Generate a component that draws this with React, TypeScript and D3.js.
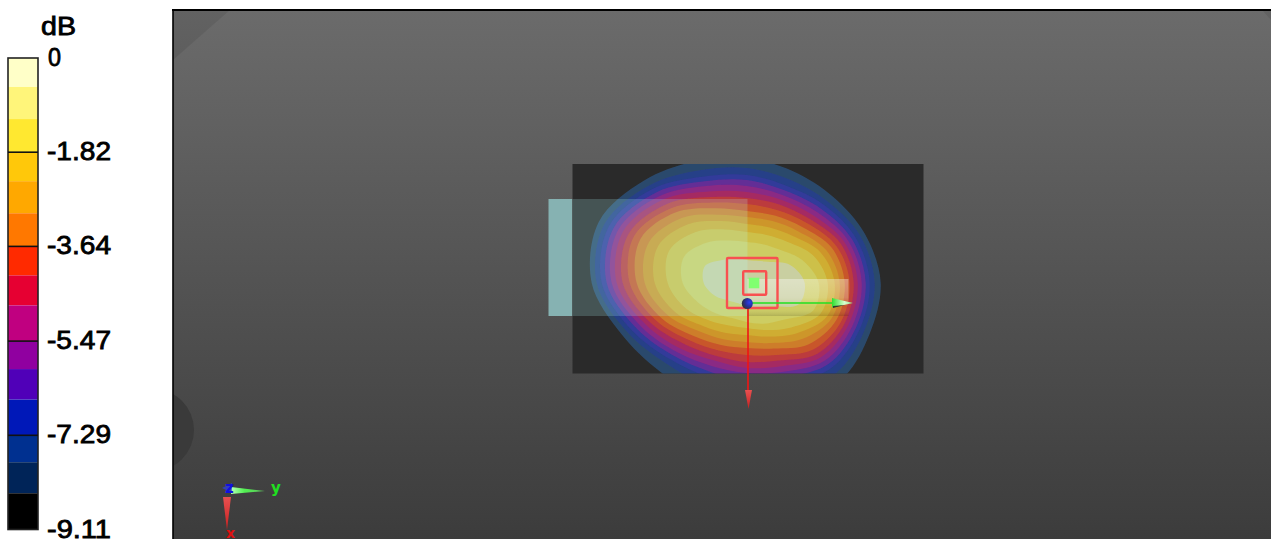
import React from "react";
import * as d3 from "d3";

// ---------- data ----------
const tickLabels = ["0", "-1.82", "-3.64", "-5.47", "-7.29", "-9.11"];
const tickValues = [0, -1.82, -3.64, -5.47, -7.29, -9.11];
const bandEdgesDb = [0, -0.56, -1.18, -1.82, -2.38, -3.0, -3.64, -4.2, -4.78, -5.47, -6.01, -6.6, -7.29, -7.81, -8.41, -9.11];
const bandColors = ["#FFFFC8", "#FFF57A", "#FFE830", "#FFC80A", "#FFA800", "#FF7800", "#FF2A00", "#E60032", "#C00080", "#9000A0", "#5000B8", "#0018B8", "#003090", "#002458", "#000000"];
const mapColors = ["#C9CFA1", "#CDCD63", "#CDC04A", "#CFAD31", "#CD962A", "#CD7D2B", "#C8562C", "#BC3A3C", "#A52A62", "#8A2A84", "#642E96", "#323A9A", "#283F88", "#2C4A6C"];

// ray directions, degrees clockwise from +y axis on screen
const rayAngles = [0, 22.5, 45, 67.5, 90, 112.5, 135, 157.5, 180, 202.5, 225, 247.5, 270, 292.5, 315, 337.5];
// distance of each contour from the origin along each ray; one list per ray, inner to outer contour
const ray000 = [58, 72, 81, 88, 93, 98, 103, 107, 111, 115, 119, 123, 128, 134];
const ray022 = [56, 72, 80, 87, 92, 97, 102, 106, 110, 114, 118, 122, 127, 133];
const ray045 = [33, 52, 63, 71, 79, 87, 94, 100, 105, 110, 115, 120, 127, 135];
const ray067 = [26, 44, 51, 58, 65, 71, 78, 84, 90, 96, 102, 109, 117, 126];
const ray090 = [24, 39, 45, 52, 59, 65, 72, 79, 85, 90, 98, 106, 114, 124];
const ray112 = [22, 38, 46, 54, 61, 67, 73, 79, 84, 90, 96, 102, 110, 122];
const ray135 = [25, 43, 53, 61, 68, 75, 81, 87, 93, 98, 103, 108, 114, 124];
const ray157 = [34, 52, 66, 77, 85, 92, 98, 104, 109, 114, 119, 124, 129, 135];
const ray180 = [43, 64, 79, 92, 102, 110, 117, 124, 130, 135, 140, 145, 150, 155];
const ray202 = [45, 68, 84, 96, 106, 115, 122, 128, 134, 139, 144, 149, 154, 160];
const ray225 = [33, 57, 72, 83, 92, 100, 106, 112, 118, 123, 128, 133, 138, 145];
const ray247 = [28, 46, 58, 67, 74, 81, 87, 93, 99, 105, 110, 115, 122, 132];
const ray270 = [23, 41, 51, 59, 66, 72, 79, 85, 91, 97, 103, 108, 115, 125];
const ray292 = [24, 42, 52, 60, 67, 73, 79, 85, 90, 95, 100, 105, 112, 121];
const ray315 = [30, 47, 58, 66, 73, 79, 85, 90, 95, 100, 105, 110, 115, 122];
const ray337 = [47, 60, 72, 80, 86, 92, 97, 102, 106, 110, 114, 118, 123, 128];
const rays = [ray000, ray022, ray045, ray067, ray090, ray112, ray135, ray157, ray180, ray202, ray225, ray247, ray270, ray292, ray315, ray337];

// ---------- layout ----------
const W = 1271, H = 539;
const legendY = d3.scaleLinear().domain([0, -9.11]).range([58, 529.5]);
const rScale = d3.scaleLinear().domain([0, 160]).range([0, 160]);
const cx = 746.7, cy = 283;
const FONT = "'Liberation Sans', Arial, sans-serif";

const contour = d3
  .lineRadial<number>()
  .angle((_, i) => ((rayAngles[i] + 90) * Math.PI) / 180)
  .radius((d) => rScale(d))
  .curve(d3.curveCatmullRomClosed.alpha(0.5));

export default function App() {
  const paths = mapColors.map((c, level) => ({
    color: c,
    d: contour(rays.map((r) => r[level])) as string,
  }));
  const drawOrder = paths.slice().reverse();
  return (
    <svg
      width={W}
      height={H}
      viewBox={`0 0 ${W} ${H}`}
      style={{ position: "absolute", left: 0, top: 0, background: "#fff" }}
    >
      <defs>
        <linearGradient id="bg" x1="0" x2="0" y1="0" y2="1">
          <stop offset="0" stopColor="#6b6b6b" />
          <stop offset="1" stopColor="#3c3c3c" />
        </linearGradient>
        <linearGradient id="glow" x1="0" x2="0" y1="0" y2="1">
          <stop offset="0" stopColor="#ffffff" stopOpacity="0.38" />
          <stop offset="0.5" stopColor="#ffffff" stopOpacity="0.26" />
          <stop offset="0.75" stopColor="#ffffff" stopOpacity="0" />
          <stop offset="1" stopColor="#000000" stopOpacity="0.14" />
        </linearGradient>
        <linearGradient id="yCone" x1="0" x2="1" y1="0" y2="0">
          <stop offset="0" stopColor="#30e030" />
          <stop offset="0.6" stopColor="#d8ffd0" />
          <stop offset="1" stopColor="#90e090" />
        </linearGradient>
        <linearGradient id="triadY" x1="0" x2="1" y1="0" y2="0">
          <stop offset="0" stopColor="#b8ffb8" />
          <stop offset="0.4" stopColor="#50f050" />
          <stop offset="1" stopColor="#60c060" />
        </linearGradient>
        <linearGradient id="xCone" x1="0" x2="0" y1="0" y2="1">
          <stop offset="0" stopColor="#e85050" />
          <stop offset="1" stopColor="#c82020" />
        </linearGradient>
        <radialGradient id="ball" cx="0.7" cy="0.4" r="0.7">
          <stop offset="0" stopColor="#2840f0" />
          <stop offset="0.5" stopColor="#2830a0" />
          <stop offset="1" stopColor="#303038" />
        </radialGradient>
        <clipPath id="map">
          <rect x={572.5} y={164} width={351} height={209.5} />
        </clipPath>
        <clipPath id="view">
          <rect x={173} y={10} width={1098} height={529} />
        </clipPath>
        <filter id="soft" x="-5%" y="-5%" width="110%" height="110%">
          <feGaussianBlur stdDeviation="0.5" />
        </filter>
      </defs>

      {/* legend */}
      <g fontFamily={FONT} fill="#000">
        {bandColors.map((c, i) => (
          <rect
            key={c}
            x={8}
            y={legendY(bandEdgesDb[i])}
            width={30}
            height={legendY(bandEdgesDb[i + 1]) - legendY(bandEdgesDb[i])}
            fill={c}
          />
        ))}
        <rect x={8} y={58} width={30} height={471.5} fill="none" stroke="#222" strokeWidth={1.6} />
        {tickValues.slice(1, 5).map((v) => (
          <line key={v} x1={8} x2={38} y1={legendY(v)} y2={legendY(v)} stroke="#111" strokeWidth={1.6} />
        ))}
        <text x={41} y={35} fontSize={25} stroke="#000" strokeWidth={0.8} textLength={35} lengthAdjust="spacingAndGlyphs">dB</text>
        {tickLabels.map((t, i) => (
          <text
            key={t}
            x={t === "0" ? 48 : 47}
            y={legendY(tickValues[i]) + 8}
            fontSize={25}
            stroke="#000"
            strokeWidth={0.8}
            textLength={t === "0" ? 13 : 64}
            lengthAdjust="spacingAndGlyphs"
          >
            {t}
          </text>
        ))}
      </g>

      {/* viewport */}
      <g clipPath="url(#view)">
        <rect x={173} y={10} width={1098} height={529} fill="url(#bg)" />
        <polygon points="173,10 230,10 173,60" fill="#000" opacity={0.08} />
        <polygon points="1262,10 1271,10 1271,20" fill="#000" opacity={0.08} />
        <circle cx={152.6} cy={430} r={41.4} fill="#3a3a3a" />
      </g>
      <line x1={173} x2={173} y1={9.5} y2={539} stroke="#000" strokeWidth={1.6} />
      <line x1={172} x2={1271} y1={10} y2={10} stroke="#000" strokeWidth={1.8} />

      {/* phantom + contours */}
      <rect x={548.5} y={199} width={24} height={117} fill="#86B2B2" />
      <rect x={572.5} y={164} width={351} height={209.5} fill="#2a2a2a" />
      <g clipPath="url(#map)">
        <g transform={`translate(${cx},${cy})`} filter="url(#soft)">
          {drawOrder.map((p) => (
            <path key={p.color} d={p.d} fill={p.color} />
          ))}
        </g>
        <rect x={572.5} y={199} width={175} height={117} fill="#b4ffff" opacity={0.2} />
        <rect x={747.5} y={279} width={101} height={37} fill="url(#glow)" />
      </g>

      {/* axes at the origin */}
      <rect x={727} y={258} width={50.5} height={50} fill="none" stroke="#f85050" strokeWidth={2.4} rx={1} />
      <rect x={743.2} y={271.2} width={23} height={23.5} fill="none" stroke="#f85050" strokeWidth={2.4} rx={1} />
      <rect x={748.7} y={277.7} width={10.6} height={10.6} fill="#80FF70" />
      <line x1={748} x2={748} y1={303} y2={391} stroke="#f01414" strokeWidth={1.6} />
      <polygon points="745,390 752,390 748.5,409" fill="url(#xCone)" />
      <line x1={750} x2={834} y1={303} y2={303} stroke="#20e020" strokeWidth={1.4} />
      <polygon points="832,298 853,303 832,307.5" fill="url(#yCone)" />
      <polygon points="833,306 845,305 833,308" fill="#303830" />
      <circle cx={747.3} cy={303.5} r={5.5} fill="url(#ball)" />

      {/* orientation triad */}
      <polygon points="231,487 265,491 231,494" fill="url(#triadY)" />
      <polygon points="222,488 232,483 232,493" fill="#3040e0" opacity={0.75} />
      <polygon points="223,497 231,497 227,530" fill="url(#xCone)" />
      <g fontFamily="'DejaVu Sans', sans-serif" fontWeight="bold" fontSize={15}>
        <text x={225} y={493} fill="#1010e0">z</text>
        <text x={271} y={493} fill="#20e020">y</text>
        <text x={226} y={538} fill="#e01010" fontSize={14}>x</text>
      </g>
    </svg>
  );
}
